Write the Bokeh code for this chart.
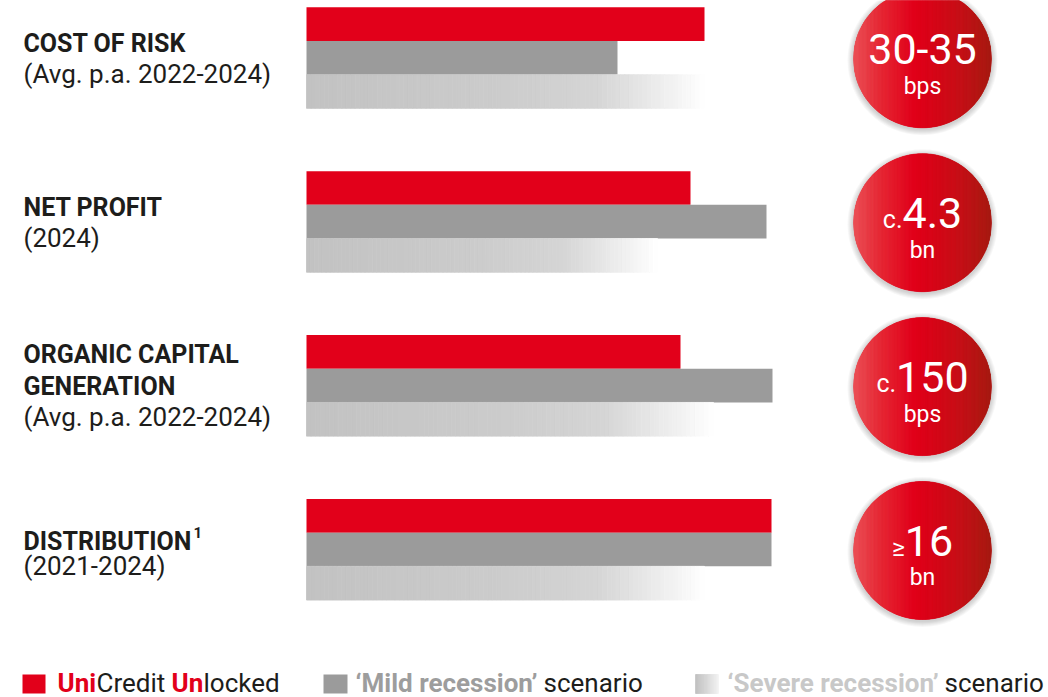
import numpy as np
from bokeh.plotting import figure
from bokeh.models import Range1d
from bokeh.embed import file_html
from bokeh.resources import INLINE
from bokeh.core.properties import value

# ---------------- data ----------------
categories = ["COST OF RISK", "NET PROFIT", "ORGANIC CAPITAL GENERATION", "DISTRIBUTION"]
label_lines = [["COST OF RISK"], ["NET PROFIT"], ["ORGANIC CAPITAL", "GENERATION"], ["DISTRIBUTION"]]
subtitles = ["(Avg. p.a. 2022-2024)", "(2024)", "(Avg. p.a. 2022-2024)", "(2021-2024)"]
footnotes = ["", "", "", "1"]
unlocked = [398, 384, 374, 465]   # UniCredit Unlocked
mild = [311, 460, 466, 465]       # 'Mild recession' scenario
severe = [398, 351, 407, 398]     # 'Severe recession' scenario
target_prefix = ["", "c.", "c.", "\u2265"]
target_value = ["30-35", "4.3", "150", "16"]
target_unit = ["bps", "bn", "bps", "bn"]

# ---------------- layout / style ----------------
W, H = 1048, 697
FONT = "Roboto"
RED = "#e2001a"
MID = "#9b9b9b"
TXT = "#1d1d1b"
BASE_X = 306
BL_SHIFT = 0.37   # empirical: svg text sits this many em lower than the requested baseline

def X(px):  # page x -> data x
    return px - BASE_X

def Y(py):  # page y -> data y
    return py

p = figure(width=W, height=H, x_range=Range1d(-BASE_X, W - BASE_X), y_range=Range1d(H, 0),
           output_backend="svg", toolbar_location=None, min_border=0,
           outline_line_color=None, background_fill_color="white", border_fill_color="white")
p.xaxis.visible = False
p.yaxis.visible = False
p.xgrid.visible = False
p.ygrid.visible = False


def txt(x, y, t, fs, color, style="normal", align="left"):
    p.text(x=[x], y=[y - BL_SHIFT * fs], text=[t], text_font=value(FONT),
           text_font_size=f"{fs}px", text_font_style=style, text_color=color,
           text_baseline="alphabetic", text_align=align)


n = len(categories)
gc = [Y(57.3 + 163.9 * i) for i in range(n)]
bh = 33.7

# red & mid bars
p.hbar(y=[g - bh for g in gc], left=0, right=unlocked, height=bh, fill_color=RED, line_color=None)
p.hbar(y=gc, left=0, right=mild, height=bh, fill_color=MID, line_color=None)

# severe bars with fading gradient
sev_stops_t = [0.0, 0.5, 0.73, 0.83, 0.92, 1.0]
sev_stops_v = [194, 204, 213, 228, 242, 255]


def grey(v):
    v = int(round(v))
    return "#%02x%02x%02x" % (v, v, v)


NS = 90
ql, qr, qt, qb, qc = [], [], [], [], []
for i in range(n):
    for k in range(NS):
        a = severe[i] * k / NS
        b = severe[i] * (k + 1) / NS
        t = (k + 0.5) / NS
        ql.append(a); qr.append(b)
        qt.append(gc[i] + bh / 2); qb.append(gc[i] + bh * 1.5)
        qc.append(grey(np.interp(t, sev_stops_t, sev_stops_v)))
p.quad(left=ql, right=qr, top=qt, bottom=qb, fill_color=qc, line_color=qc, line_width=0.8)

# character width table (em) for centring composite labels
W_EM = {'0': .562, '1': .562, '2': .562, '3': .562, '4': .562, '5': .562, '6': .562, '7': .562,
        '8': .562, '9': .562, '.': .263, '-': .276, 'c': .523, '\u2265': .52, ' ': .248,
        'b': .561, 'p': .561, 's': .516, 'n': .552}

# left labels
line1_base = [[52], [216], [363, 395], [550]]
sub_base = [83, 247, 426, 575]
for i in range(n):
    for j, ln in enumerate(label_lines[i]):
        txt(X(23), Y(line1_base[i][j]), ln, 25, TXT, "bold")
    txt(X(23), Y(sub_base[i]), subtitles[i], 26, TXT)
    if footnotes[i]:
        txt(X(193), Y(538), footnotes[i], 15, TXT, "bold")

# target circles
cx = X(922)
R = 69
c_t = [0.0, 0.2, 0.45, 0.75, 1.0]
c_r = [236, 230, 225, 200, 165]
c_g = [84, 42, 0, 16, 28]
c_b = [90, 54, 26, 24, 18]
NC = 120
for i in range(n):
    cy = gc[i] + 1
    for k in range(6, 0, -1):
        p.circle(x=[cx], y=[cy + 1.5], radius=R + k, fill_color="black", fill_alpha=0.03, line_color=None)
    p.circle(x=[cx], y=[cy], radius=R, fill_color=RED, line_color=None)
    xs, ys, cols = [], [], []
    for k in range(NC):
        xa = cx - R + 2 * R * k / NC
        xb = cx - R + 2 * R * (k + 1) / NC
        ha = np.sqrt(max(R ** 2 - (xa - cx) ** 2, 0))
        hb = np.sqrt(max(R ** 2 - (xb - cx) ** 2, 0))
        xs.append([xa, xb, xb, xa]); ys.append([cy - ha, cy - hb, cy + hb, cy + ha])
        t = (k + 0.5) / NC
        cols.append("#%02x%02x%02x" % (int(np.interp(t, c_t, c_r)), int(np.interp(t, c_t, c_g)),
                                       int(np.interp(t, c_t, c_b))))
    p.patches(xs=xs, ys=ys, fill_color=cols, line_color=cols, line_width=0.6)

    big, small = 43, 25
    wp = sum(W_EM.get(ch, .55) for ch in target_prefix[i]) * small
    wv = sum(W_EM.get(ch, .55) for ch in target_value[i]) * big
    start = cx - (wp + wv) / 2
    if target_prefix[i]:
        txt(start, cy + 6, target_prefix[i], small, "white")
    txt(start + wp, cy + 6, target_value[i], big, "white")
    txt(cx, cy + 36, target_unit[i], 23, "white", align="center")

# legend
LB = Y(692)
sq_top, sq_bot = Y(674), Y(693)
p.quad(left=[X(22)], right=[X(45)], top=[sq_top], bottom=[sq_bot], fill_color=RED, line_color=None)
p.quad(left=[X(323)], right=[X(347)], top=[sq_top], bottom=[sq_bot], fill_color=MID, line_color=None)
NL = 24
for k in range(NL):
    c = grey(np.interp((k + 0.5) / NL, [0, 1], [190, 242]))
    p.quad(left=[X(695) + 23 * k / NL], right=[X(695) + 23 * (k + 1) / NL], top=[sq_top],
           bottom=[sq_bot], fill_color=c, line_color=c, line_width=0.6)

runs = [
    (57, "Uni", RED, "bold"), (96, "Credit", TXT, "normal"), (171, "Un", RED, "bold"),
    (203, "locked", TXT, "normal"),
    (355, "\u2018Mild recession\u2019", "#9d9d9d", "bold"), (543, "scenario", TXT, "normal"),
    (727, "\u2018Severe recession\u2019", "#c8c8c8", "bold"), (944, "scenario", TXT, "normal"),
]
for (x, t, c, s) in runs:
    txt(X(x), LB, t, 26, c, s)

open("out.html", "w").write(file_html(p, INLINE))
